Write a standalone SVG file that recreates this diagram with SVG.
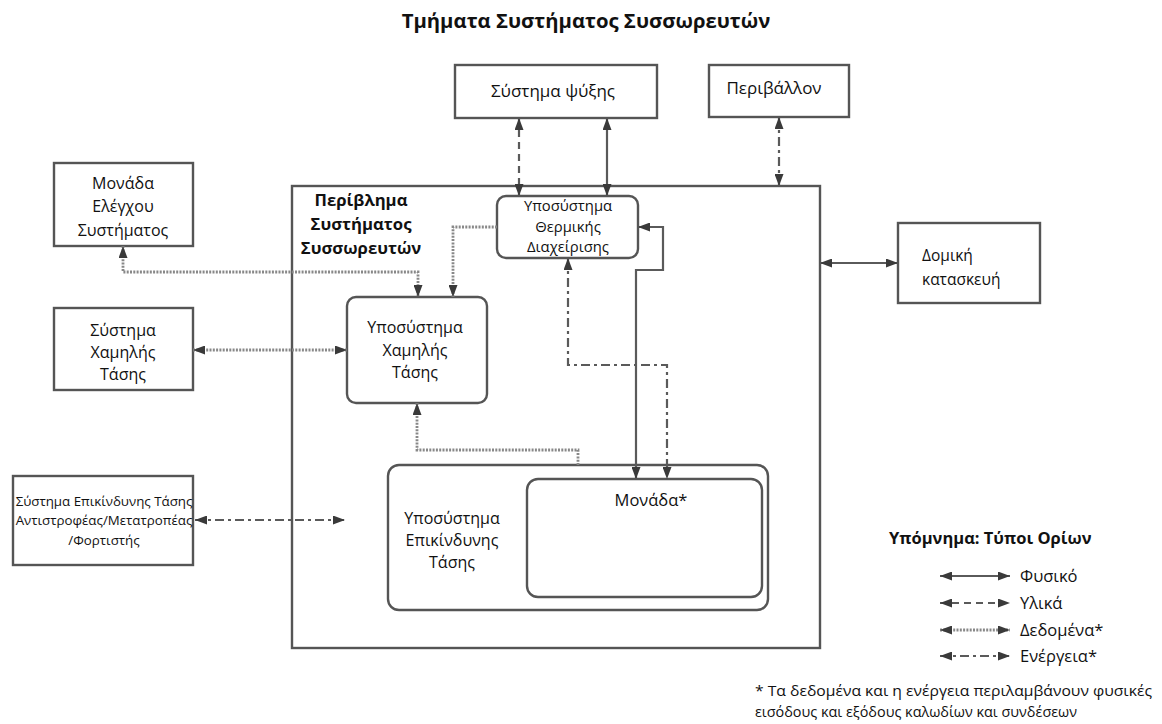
<svg xmlns="http://www.w3.org/2000/svg" width="1162" height="724" viewBox="0 0 1162 724">
<defs>
<marker id="ah" viewBox="0 0 12 9" refX="12" refY="4.5" markerWidth="12" markerHeight="9" markerUnits="userSpaceOnUse" orient="auto-start-reverse">
<path d="M0,0 L12,4.5 L0,9 Z" fill="#3a3a3a"/>
</marker>
<style>
text{font-family:"Open Sans","Noto Sans","DejaVu Sans",sans-serif;fill:#111;}
.lbl{font-size:16px;text-anchor:middle;}
.sm{font-size:13.3px;text-anchor:middle;}
.th{font-size:14.8px;text-anchor:middle;}
.leg{font-size:16.5px;}
.bold{font-weight:bold;}
.box{fill:#fff;stroke:#555;stroke-width:2.4;}
.c{fill:none;stroke:#5a5a5a;stroke-width:2.2;}
.dash{stroke-dasharray:7 5;}
.dot{stroke:#888;stroke-width:2.8;stroke-dasharray:2 1.3;}
.dd{stroke-dasharray:9 4 3 4;}
.arr{marker-end:url(#ah);}
.arr2{marker-start:url(#ah);marker-end:url(#ah);}
</style>
</defs>
<rect width="1162" height="724" fill="#fff"/>
<text x="586" y="28" class="lbl bold" style="font-size:20.3px">Τμήματα Συστήματος Συσσωρευτών</text>

<g id="enclosure">
<rect class="box" x="292" y="186" width="528" height="462"/>
<text class="lbl bold" style="font-size:16.7px" x="361" y="206">Περίβλημα</text>
<text class="lbl bold" style="font-size:16.7px" x="361" y="230">Συστήματος</text>
<text class="lbl bold" style="font-size:16.7px" x="361" y="254">Συσσωρευτών</text>
</g>

<g id="cooling">
<rect class="box" x="455" y="65" width="202" height="53"/>
<text class="lbl" style="font-size:17px" x="553" y="97">Σύστημα ψύξης</text>
</g>
<g id="environment">
<rect class="box" x="709" y="65" width="140" height="52"/>
<text class="lbl" style="font-size:17px" x="774" y="94">Περιβάλλον</text>
</g>
<g id="control-unit">
<rect class="box" x="54" y="163" width="139" height="83"/>
<text class="lbl" x="123" y="189">Μονάδα</text>
<text class="lbl" x="123" y="212">Ελέγχου</text>
<text class="lbl" x="123" y="236">Συστήματος</text>
</g>
<g id="lv-system">
<rect class="box" x="54" y="308" width="139" height="82"/>
<text class="lbl" x="123" y="336">Σύστημα</text>
<text class="lbl" x="123" y="358">Χαμηλής</text>
<text class="lbl" x="123" y="380">Τάσης</text>
</g>
<g id="hv-system">
<rect class="box" x="13" y="476" width="180" height="89"/>
<text class="sm" x="104" y="506">Σύστημα Επικίνδυνης Τάσης</text>
<text class="sm" x="104" y="525">Αντιστροφέας/Μετατροπέας</text>
<text class="sm" x="104" y="545">/Φορτιστής</text>
</g>
<g id="structure">
<rect class="box" x="898" y="223" width="142" height="80"/>
<text style="font-size:15.5px" x="922" y="261">Δομική</text>
<text style="font-size:15.5px" x="922" y="285">κατασκευή</text>
</g>
<g id="thermal">
<rect class="box" x="497" y="196" width="141" height="62" rx="9"/>
<text class="th" x="568" y="211">Υποσύστημα</text>
<text class="th" x="568" y="232">Θερμικής</text>
<text class="th" x="568" y="252">Διαχείρισης</text>
</g>
<g id="lv-subsystem">
<rect class="box" x="347" y="297" width="140" height="106" rx="9"/>
<text class="lbl" x="415" y="333">Υποσύστημα</text>
<text class="lbl" x="415" y="356">Χαμηλής</text>
<text class="lbl" x="415" y="378">Τάσης</text>
</g>
<g id="hv-subsystem">
<rect class="box" x="388" y="465" width="380" height="145" rx="11"/>
<text class="lbl" x="452" y="524">Υποσύστημα</text>
<text class="lbl" x="452" y="546">Επικίνδυνης</text>
<text class="lbl" x="452" y="568">Τάσης</text>
</g>
<g id="module">
<rect class="box" x="527" y="479" width="235" height="118" rx="11"/>
<text class="lbl" style="font-size:16.5px" x="651" y="506">Μονάδα*</text>
</g>

<g id="connectors">
<path class="c dash arr2" d="M519,118 V196"/>
<path class="c arr2" d="M607,118 V196"/>
<path class="c dd arr2" d="M779,117 V186"/>
<path class="c arr2" d="M820,263 H898"/>
<path class="c dot arr2" d="M123,246 V272 H418 V297"/>
<path class="c dot arr" d="M497,227 H453 V297"/>
<path class="c dot arr2" d="M193,350 H347"/>
<path class="c dot arr" d="M578,465 V450 H417 V403"/>
<path class="c dd arr2" d="M195,520 H345"/>
<path class="c arr2" d="M636,479 V270 H663 V227 H638"/>
<path class="c dd arr2" d="M568,258 V365 H667 V479"/>
</g>

<g id="legend">
<text class="bold" style="font-size:16.5px" x="889" y="544">Υπόμνημα: Τύποι Ορίων</text>
<path class="c arr2" d="M940,576 H1010"/>
<path class="c dash arr2" d="M940,603 H1010"/>
<path class="c dot arr2" d="M940,630 H1010"/>
<path class="c dd arr2" d="M940,656 H1010"/>
<text class="leg" x="1020" y="582">Φυσικό</text>
<text class="leg" x="1020" y="609">Υλικά</text>
<text class="leg" x="1020" y="636">Δεδομένα*</text>
<text class="leg" x="1020" y="662">Ενέργεια*</text>
<text style="font-size:14.5px" x="755" y="696" textLength="397" lengthAdjust="spacingAndGlyphs">* Τα δεδομένα και η ενέργεια περιλαμβάνουν φυσικές</text>
<text style="font-size:14.5px" x="755" y="717" textLength="322" lengthAdjust="spacingAndGlyphs">εισόδους και εξόδους καλωδίων και συνδέσεων</text>
</g>
</svg>
